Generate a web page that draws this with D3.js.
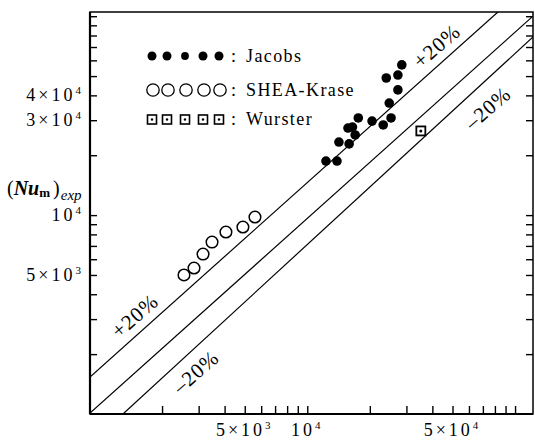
<!DOCTYPE html>
<html lang="en">
<head>
<meta charset="UTF-8">
<title>(Num)exp comparison</title>
<script src="https://d3js.org/d3.v7.min.js"></script>
<style>
  body { margin: 0; background: #fff; }
  svg { display: block; font-family: "Liberation Serif", "Times New Roman", serif; }
  .axis path { display: none; }
  .axis line { stroke: #000; stroke-width: 1.4; }
  .ref { fill: none; stroke: #000; stroke-width: 1.2; }
  .tick-label { font-size: 18px; letter-spacing: 3px; }
  .legend-text { font-size: 18px; letter-spacing: 1.4px; }
  .pct { font-size: 21px; letter-spacing: 1px; }
</style>
</head>
<body>
<svg width="535" height="440"></svg>
<script>
// Jacobs (filled circles)
const jacobsX = [28500, 27300, 24000, 27300, 24800, 17600, 20500, 23200, 25300, 15700, 16500, 17000, 14200, 15900, 12300, 13900];
const jacobsY = [56900, 50600, 48900, 42600, 36600, 30800, 29700, 28400, 30800, 27400, 27700, 25300, 23300, 22800, 18700, 18700];
// SHEA-Krase (open circles)
const sheaX = [2550, 2850, 3150, 3480, 4060, 4900, 5600];
const sheaY = [5000, 5420, 6370, 7320, 8220, 8710, 9780];
// Wurster (square)
const wursterX = [35200];
const wursterY = [26500];

// reference lines, end points
const centerLine = [[900, 1010], [120500, 99000]];
const plusLine = [[900, 1535], [82700, 105000]];
const minusLine = [[1297, 1000], [122000, 78600]];

// tick labels
const xTickVals = [5000, 10000, 50000];
const xTickBase = ["5×10", "10", "5×10"];
const xTickExp = ["3", "4", "4"];
const yTickVals = [5000, 10000, 30000, 40000];
const yTickBase = ["5×10", "10", "3×10", "4×10"];
const yTickExp = ["3", "4", "4", "4"];
const minorTicks = [2000, 3000, 4000, 5000, 6000, 7000, 8000, 9000, 10000,
                    20000, 30000, 40000, 50000, 60000, 70000, 80000, 90000, 100000];

const svg = d3.select("svg"),
      margin = {top: 12, right: 2, bottom: 26, left: 90},
      width = +svg.attr("width") - margin.left - margin.right,
      height = +svg.attr("height") - margin.top - margin.bottom,
      g = svg.append("g").attr("transform", `translate(${margin.left},${margin.top})`);

const x = d3.scaleLog().domain([900, 122000]).range([0, width]);
const y = d3.scaleLog().domain([1000, 105000]).range([height, 0]);

svg.append("defs").append("clipPath").attr("id", "plot-clip")
  .append("rect").attr("width", width).attr("height", height);

// frame
g.append("rect")
  .attr("width", width).attr("height", height)
  .attr("fill", "none").attr("stroke", "#000").attr("stroke-width", 1.5);
g.append("line").attr("x1", 0).attr("x2", 0).attr("y1", 0).attr("y2", height)
  .attr("stroke", "#000").attr("stroke-width", 2.2);
g.append("line").attr("x1", 0).attr("x2", width).attr("y1", height).attr("y2", height)
  .attr("stroke", "#000").attr("stroke-width", 2.2);

// inward ticks on all sides but the top
g.append("g").attr("class", "axis")
  .call(d3.axisLeft(y).tickValues(minorTicks).tickSize(-7).tickSizeOuter(0).tickFormat(""));
g.append("g").attr("class", "axis")
  .attr("transform", `translate(${width},0)`)
  .call(d3.axisRight(y).tickValues(minorTicks).tickSize(-7).tickSizeOuter(0).tickFormat(""));
g.append("g").attr("class", "axis")
  .attr("transform", `translate(0,${height})`)
  .call(d3.axisBottom(x).tickValues(minorTicks).tickSize(-8).tickSizeOuter(0).tickFormat(""));

// tick labels with superscript exponents
xTickVals.forEach((v, i) => {
  const t = g.append("text").attr("class", "tick-label")
    .attr("x", x(v)).attr("y", height + 22)
    .attr("text-anchor", "middle");
  t.append("tspan").text(xTickBase[i]);
  t.append("tspan").attr("dy", -7).attr("font-size", 11).text(xTickExp[i]);
});
yTickVals.forEach((v, i) => {
  const t = g.append("text").attr("class", "tick-label")
    .attr("x", -6).attr("y", y(v) + 6)
    .attr("text-anchor", "end");
  t.append("tspan").text(yTickBase[i]);
  t.append("tspan").attr("dy", -7).attr("font-size", 11).text(yTickExp[i]);
});

// y axis title (Num)exp
const yt = svg.append("text").attr("x", 7).attr("y", 195).attr("font-size", 20);
yt.append("tspan").text("(");
yt.append("tspan").attr("font-weight", "bold").attr("font-style", "italic").text("Nu");
yt.append("tspan").attr("font-weight", "bold").attr("font-size", 13).attr("dy", 2).text("m");
yt.append("tspan").attr("dy", -2).attr("dx", 3).text(")");
yt.append("tspan").attr("font-style", "italic").attr("font-size", 15).attr("dy", 5).attr("dx", 1).text("exp");

// reference lines
const line = d3.line().x(d => x(d[0])).y(d => y(d[1]));
const plot = g.append("g").attr("clip-path", "url(#plot-clip)");
[plusLine, centerLine, minusLine].forEach(l => {
  plot.append("path").datum(l).attr("class", "ref").attr("d", line);
});

// +-20% labels
const pctLabels = [
  {t: "+20%", x: 42000, y: 70800},
  {t: "+20%", x: 1480, y: 3110},
  {t: "–20%", x: 74000, y: 34500},
  {t: "–20%", x: 2910, y: 1626}
];
g.selectAll(".pct").data(pctLabels).enter().append("text")
  .attr("class", "pct")
  .attr("text-anchor", "middle")
  .attr("dominant-baseline", "central")
  .attr("transform", d => `translate(${x(d.x)},${y(d.y)}) rotate(-41)`)
  .text(d => d.t);

// data
plot.selectAll(".jacobs").data(jacobsX).enter().append("circle")
  .attr("class", "jacobs")
  .attr("cx", d => x(d)).attr("cy", (d, i) => y(jacobsY[i]))
  .attr("r", 4.8).attr("fill", "#000");

plot.selectAll(".shea").data(sheaX).enter().append("circle")
  .attr("class", "shea")
  .attr("cx", d => x(d)).attr("cy", (d, i) => y(sheaY[i]))
  .attr("r", 5.8).attr("fill", "#fff").attr("stroke", "#000").attr("stroke-width", 1.5);

wursterX.forEach((v, i) => {
  plot.append("rect")
    .attr("x", x(v) - 4.5).attr("y", y(wursterY[i]) - 4.5)
    .attr("width", 9).attr("height", 9)
    .attr("fill", "#fff").attr("stroke", "#000").attr("stroke-width", 1.8);
  plot.append("circle").attr("cx", x(v)).attr("cy", y(wursterY[i])).attr("r", 1.5).attr("fill", "#000");
});

// legend
const legend = svg.append("g").attr("transform", "translate(152,56)");
const legendXs = [0, 15, 33, 51, 67];
const legendNames = ["Jacobs", "SHEA-Krase", "Wurster"];
legendXs.forEach((lx, i) => {
  legend.append("circle").attr("cx", lx).attr("cy", 0).attr("r", i === 2 ? 3.9 : 4.5).attr("fill", "#000");
  legend.append("circle").attr("cx", lx + 1).attr("cy", 34).attr("r", 6.2)
    .attr("fill", "#fff").attr("stroke", "#000").attr("stroke-width", 1.3);
  legend.append("rect").attr("x", lx - 4.5).attr("y", 59).attr("width", 9).attr("height", 9)
    .attr("fill", "#fff").attr("stroke", "#000").attr("stroke-width", 1.6);
  legend.append("circle").attr("cx", lx).attr("cy", 63.5).attr("r", 1.2).attr("fill", "#000");
});
legendNames.forEach((n, i) => {
  const ly = [6, 40, 69][i];
  legend.append("text").attr("class", "legend-text").attr("x", 79).attr("y", ly).text(":");
  legend.append("text").attr("class", "legend-text").attr("x", 94).attr("y", ly).text(n);
});
</script>
</body>
</html>
